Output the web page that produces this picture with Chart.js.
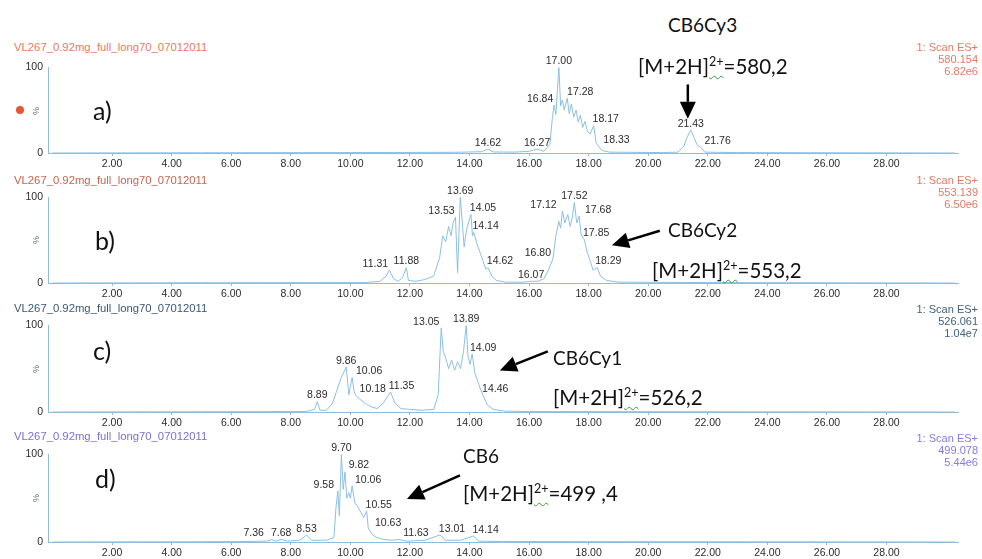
<!DOCTYPE html>
<html>
<head>
<meta charset="utf-8">
<script src="https://cdn.jsdelivr.net/npm/chart.js@4.4.0/dist/chart.umd.min.js"></script>
<style>
  body { margin: 0; width: 982px; height: 559px; overflow: hidden; background: #fff; font-family: "Liberation Sans", Arial, sans-serif; }
  canvas { position: absolute; left: 0; }
  .hdr { position: absolute; left: 14px; font-size: 11.3px; white-space: nowrap; transform: translateY(-50%); z-index: 2; }
  .scan { position: absolute; right: 4px; font-size: 11px; text-align: right; line-height: 12px; z-index: 2; }
  .pct { position: absolute; font-size: 9px; color: #666; transform: translate(-50%, -50%) rotate(-90deg); z-index: 2; }
  .tag { position: absolute; font-family: Lato, "Open Sans", sans-serif; font-size: 25px; color: #111; transform: translateY(-50%); z-index: 2; }
  .big { position: absolute; font-family: Lato, "Open Sans", sans-serif; font-size: 19px; color: #111; white-space: nowrap; transform: translateY(-50%); z-index: 2; }
  .big.f { font-size: 20.5px; }
  .big .sq { position: relative; top: -8px; font-size: 12.5px; text-decoration: underline wavy #3a9a3a; text-decoration-thickness: 1px; text-underline-offset: 9px; }
  .dot { position: absolute; left: 16px; top: 106px; width: 8px; height: 8px; border-radius: 50%; background: #e8562f; }
</style>
</head>
<body>

<div class="dot"></div>

<div class="hdr" style="top:47px;color:#e67a63">VL267_0.92mg_full_long70_07012011</div>
<div class="hdr" style="top:180px;color:#c9654f">VL267_0.92mg_full_long70_07012011</div>
<div class="hdr" style="top:308px;color:#3b5774">VL267_0.92mg_full_long70_07012011</div>
<div class="hdr" style="top:436px;color:#7b70d4">VL267_0.92mg_full_long70_07012011</div>

<div class="scan" style="top:41px;color:#e67a63">1: Scan ES+<br>580.154<br>6.82e6</div>
<div class="scan" style="top:174px;color:#e07a65">1: Scan ES+<br>553.139<br>6.50e6</div>
<div class="scan" style="top:303px;color:#44607e">1: Scan ES+<br>526.061<br>1.04e7</div>
<div class="scan" style="top:432px;color:#867ae0">1: Scan ES+<br>499.078<br>5.44e6</div>

<div class="pct" style="left:36px;top:111px">%</div>
<div class="pct" style="left:36px;top:240px">%</div>
<div class="pct" style="left:36px;top:369px">%</div>
<div class="pct" style="left:36px;top:498px">%</div>

<div class="tag" style="left:93px;top:110px">a)</div>
<div class="tag" style="left:95px;top:240px">b)</div>
<div class="tag" style="left:93px;top:350px">c)</div>
<div class="tag" style="left:95px;top:478px">d)</div>

<div class="big" style="left:668px;top:24px">CB6Cy3</div>
<div class="big f" style="left:638px;top:66px">[M+2H]<span class="sq">2+</span>=580,2</div>
<div class="big" style="left:668px;top:229px">CB6Cy2</div>
<div class="big f" style="left:652px;top:270px">[M+2H]<span class="sq">2+</span>=553,2</div>
<div class="big" style="left:553px;top:357px">CB6Cy1</div>
<div class="big f" style="left:553px;top:397px">[M+2H]<span class="sq">2+</span>=526,2</div>
<div class="big" style="left:463px;top:455px">CB6</div>
<div class="big f" style="left:463px;top:493px">[M+2H]<span class="sq">2+</span>=499 ,4</div>

<canvas id="chartA"></canvas>
<canvas id="chartB"></canvas>
<canvas id="chartC"></canvas>
<canvas id="chartD"></canvas>

<script>
// DATA
// retention time (min), relative intensity (%)
const traceA = [[0,0],[5,0.3],[10,0.5],[13.5,0.8],[14.4,1.5],[14.62,4.5],[14.8,1.2],[15.5,1],[16.0,2],[16.27,4.5],[16.5,2],
  [16.7,10],[16.78,40],[16.84,56],[16.9,45],[17.00,100],[17.06,55],[17.12,62],[17.18,50],[17.28,64],[17.35,46],[17.42,57],
  [17.5,42],[17.58,50],[17.65,36],[17.72,44],[17.8,30],[17.88,37],[17.95,26],[18.05,22],[18.17,32],[18.25,12],[18.33,8],
  [18.45,3],[18.7,1],[20.5,0.5],[21.0,1],[21.2,8],[21.3,18],[21.43,27],[21.55,17],[21.65,9],[21.76,7],[21.9,1],[23,0.5],[30.3,0]];
const traceB = [[0,0],[5,0.3],[10.5,0.5],[11.0,2],[11.2,8],[11.31,15],[11.45,5],[11.6,2],[11.75,6],[11.88,18],[11.95,3],
  [12.2,2],[12.5,4],[12.8,8],[13.0,30],[13.1,55],[13.2,48],[13.3,66],[13.38,55],[13.45,70],[13.53,77],[13.6,12],[13.69,100],
  [13.76,70],[13.82,42],[13.9,62],[13.98,72],[14.05,80],[14.1,55],[14.14,59],[14.25,46],[14.35,36],[14.45,26],[14.55,16],
  [14.62,18],[14.75,8],[14.9,3],[15.2,1],[15.8,1],[16.07,2],[16.3,2],[16.5,5],[16.65,15],[16.80,28],[16.9,55],[17.0,72],
  [17.06,64],[17.12,84],[17.2,70],[17.3,80],[17.38,66],[17.45,76],[17.52,94],[17.6,70],[17.68,78],[17.75,56],[17.85,51],
  [17.95,36],[18.05,26],[18.15,15],[18.29,18],[18.4,8],[18.6,3],[19,1],[22,0.5],[30.3,0]];
const traceC = [[0,0],[5,0.3],[8.5,0.5],[8.8,3],[8.89,12],[8.98,2],[9.2,2],[9.4,10],[9.55,25],[9.7,40],[9.86,52],[9.95,20],
  [10.06,40],[10.12,25],[10.18,19],[10.35,14],[10.5,10],[10.7,6],[10.9,4],[11.1,10],[11.25,18],[11.35,23],[11.5,10],[11.7,4],
  [12.0,3],[12.4,2],[12.8,3],[12.95,20],[13.05,97],[13.12,70],[13.2,62],[13.3,50],[13.4,60],[13.5,48],[13.6,58],[13.7,50],
  [13.8,70],[13.89,100],[13.95,64],[14.02,55],[14.09,67],[14.18,45],[14.28,35],[14.38,25],[14.46,19],[14.6,8],[14.8,3],
  [15.2,1],[16,0.5],[30.3,0]];
const traceD = [[0,0],[5,0.3],[6.5,0.5],[7.2,1],[7.36,2.5],[7.5,1],[7.68,3],[7.9,1],[8.3,2],[8.53,8],[8.7,2],[9.2,2],[9.45,5],
  [9.52,40],[9.58,58],[9.63,30],[9.70,100],[9.76,60],[9.82,80],[9.88,50],[9.95,56],[10.0,50],[10.06,64],[10.15,45],[10.25,40],
  [10.35,34],[10.45,28],[10.55,35],[10.6,16],[10.63,14],[10.75,8],[10.9,5],[11.1,3],[11.4,2],[11.63,3],[11.9,1],[12.5,2],
  [13.01,8],[13.2,2],[13.7,2],[14.14,7],[14.3,1],[15,0.5],[30.3,0]];

// labelled peaks (retention times)
const peaksA = [14.62, 16.27, 16.84, 17.00, 17.28, 18.17, 18.33, 21.43, 21.76];
const peaksB = [11.31, 11.88, 13.53, 13.69, 14.05, 14.14, 14.62, 16.07, 16.80, 17.12, 17.52, 17.68, 17.85, 18.29];
const peaksC = [8.89, 9.86, 10.06, 10.18, 11.35, 13.05, 13.89, 14.09, 14.46];
const peaksD = [7.36, 7.68, 8.53, 9.58, 9.70, 9.82, 10.06, 10.55, 10.63, 11.63, 13.01, 14.14];

// axis ticks
const xTickValues = [2, 4, 6, 8, 10, 12, 14, 16, 18, 20, 22, 24, 26, 28];
const yTickValues = [0, 100];

// STYLE
const traceColor = '#8cc0e3';
const axisColor = '#8fbcd9';
const textColor = '#2b2b2b';

// label offsets in px (keeps labels off the trace, like the instrument software)
const nudgeA = {16.84: -14, 17.28: 13, 18.17: 12, 18.33: 18, 21.76: 17};
const nudgeB = {11.31: -14, 13.53: -14, 14.05: 12, 14.14: 12, 14.62: 12, 16.80: -15, 17.12: -19, 17.68: 19, 17.85: 12, 18.29: 11};
const nudgeC = {10.06: 17, 10.18: 17, 11.35: 11, 13.05: -15, 14.09: 11, 14.46: 12};
const nudgeD = {7.36: -18, 9.58: -14, 9.82: 14, 10.06: 16, 10.55: 12, 10.63: 19, 11.63: 17, 13.01: 12, 14.14: 12};

// arrows, in data units: [tail, tip]
const arrowA = [[21.33, 80], [21.33, 40]];
const arrowB = [[20.39, 61], [18.78, 44]];
const arrowC = [[16.63, 70], [15.02, 48]];
const arrowD = [[13.68, 76], [11.9, 49]];

// PLUGIN: peak labels + arrows
const overlayPlugin = {
  id: 'overlay',
  afterDatasetsDraw(chart, args, opts) {
    const ctx = chart.ctx;
    const xs = chart.scales.x, ys = chart.scales.y;
    const pts = chart.data.datasets[0].data;
    ctx.save();
    ctx.font = '10.5px "Liberation Sans", Arial, sans-serif';
    ctx.fillStyle = textColor;
    ctx.textAlign = 'center';
    ctx.textBaseline = 'bottom';
    opts.peaks.forEach(t => {
      const p = pts.find(d => d.x === t);
      const dx = opts.nudge[t] || 0;
      ctx.fillText(t.toFixed(2), xs.getPixelForValue(t) + dx, ys.getPixelForValue(p.y) - 1);
    });

    const [[t0, v0], [t1, v1]] = opts.arrow;
    const x0 = xs.getPixelForValue(t0), y0 = ys.getPixelForValue(v0);
    const x1 = xs.getPixelForValue(t1), y1 = ys.getPixelForValue(v1);
    const ang = Math.atan2(y1 - y0, x1 - x0);
    const head = 17, half = 8;
    const bx = x1 - head * Math.cos(ang), by = y1 - head * Math.sin(ang);
    ctx.strokeStyle = '#000';
    ctx.lineWidth = 2.5;
    ctx.beginPath();
    ctx.moveTo(x0, y0);
    ctx.lineTo(bx, by);
    ctx.stroke();
    ctx.fillStyle = '#000';
    ctx.beginPath();
    ctx.moveTo(x1, y1);
    ctx.lineTo(bx + half * Math.sin(ang), by - half * Math.cos(ang));
    ctx.lineTo(bx - half * Math.sin(ang), by + half * Math.cos(ang));
    ctx.closePath();
    ctx.fill();
    ctx.restore();
  }
};

// CHARTS
const makePanel = (id, trace, peaks, nudge, arrow, plotTop, plotBottom) => {
  const canvas = document.getElementById(id);
  canvas.width = 982;
  canvas.height = plotBottom + 22 - (plotTop - 10);
  canvas.style.top = (plotTop - 10) + 'px';

  return new Chart(canvas, {
    type: 'line',
    data: {
      datasets: [{
        data: trace.map(([t, v]) => ({x: t, y: v})),
        borderColor: traceColor,
        borderWidth: 1,
        pointRadius: 0,
        tension: 0
      }]
    },
    options: {
      responsive: false,
      animation: false,
      layout: {padding: {top: 10, right: 24, left: 0, bottom: 0}},
      plugins: {
        legend: {display: false},
        tooltip: {enabled: false},
        overlay: {peaks: peaks, nudge: nudge, arrow: arrow}
      },
      scales: {
        x: {
          type: 'linear',
          min: -0.15,
          max: 30.4,
          afterBuildTicks: s => { s.ticks = xTickValues.map(v => ({value: v})); },
          afterFit: s => { s.height = 22; },
          ticks: {
            callback: v => v.toFixed(2),
            color: textColor,
            font: {family: '"Liberation Sans", Arial, sans-serif', size: 10.5},
            maxRotation: 0,
            autoSkip: false,
            padding: 2
          },
          grid: {drawOnChartArea: false, drawTicks: true, tickLength: 3, color: axisColor},
          border: {color: axisColor, width: 1}
        },
        y: {
          min: 0,
          max: 100,
          afterBuildTicks: s => { s.ticks = yTickValues.map(v => ({value: v})); },
          afterFit: s => { s.width = 48; },
          ticks: {
            callback: v => String(v),
            color: textColor,
            font: {family: '"Liberation Sans", Arial, sans-serif', size: 10.5},
            padding: 5
          },
          grid: {drawOnChartArea: false, drawTicks: false},
          border: {color: axisColor, width: 1}
        }
      }
    },
    plugins: [overlayPlugin]
  });
};

makePanel('chartA', traceA, peaksA, nudgeA, arrowA, 66, 153);
makePanel('chartB', traceB, peaksB, nudgeB, arrowB, 196, 283);
makePanel('chartC', traceC, peaksC, nudgeC, arrowC, 324, 412);
makePanel('chartD', traceD, peaksD, nudgeD, arrowD, 453, 542);
</script>
</body>
</html>
